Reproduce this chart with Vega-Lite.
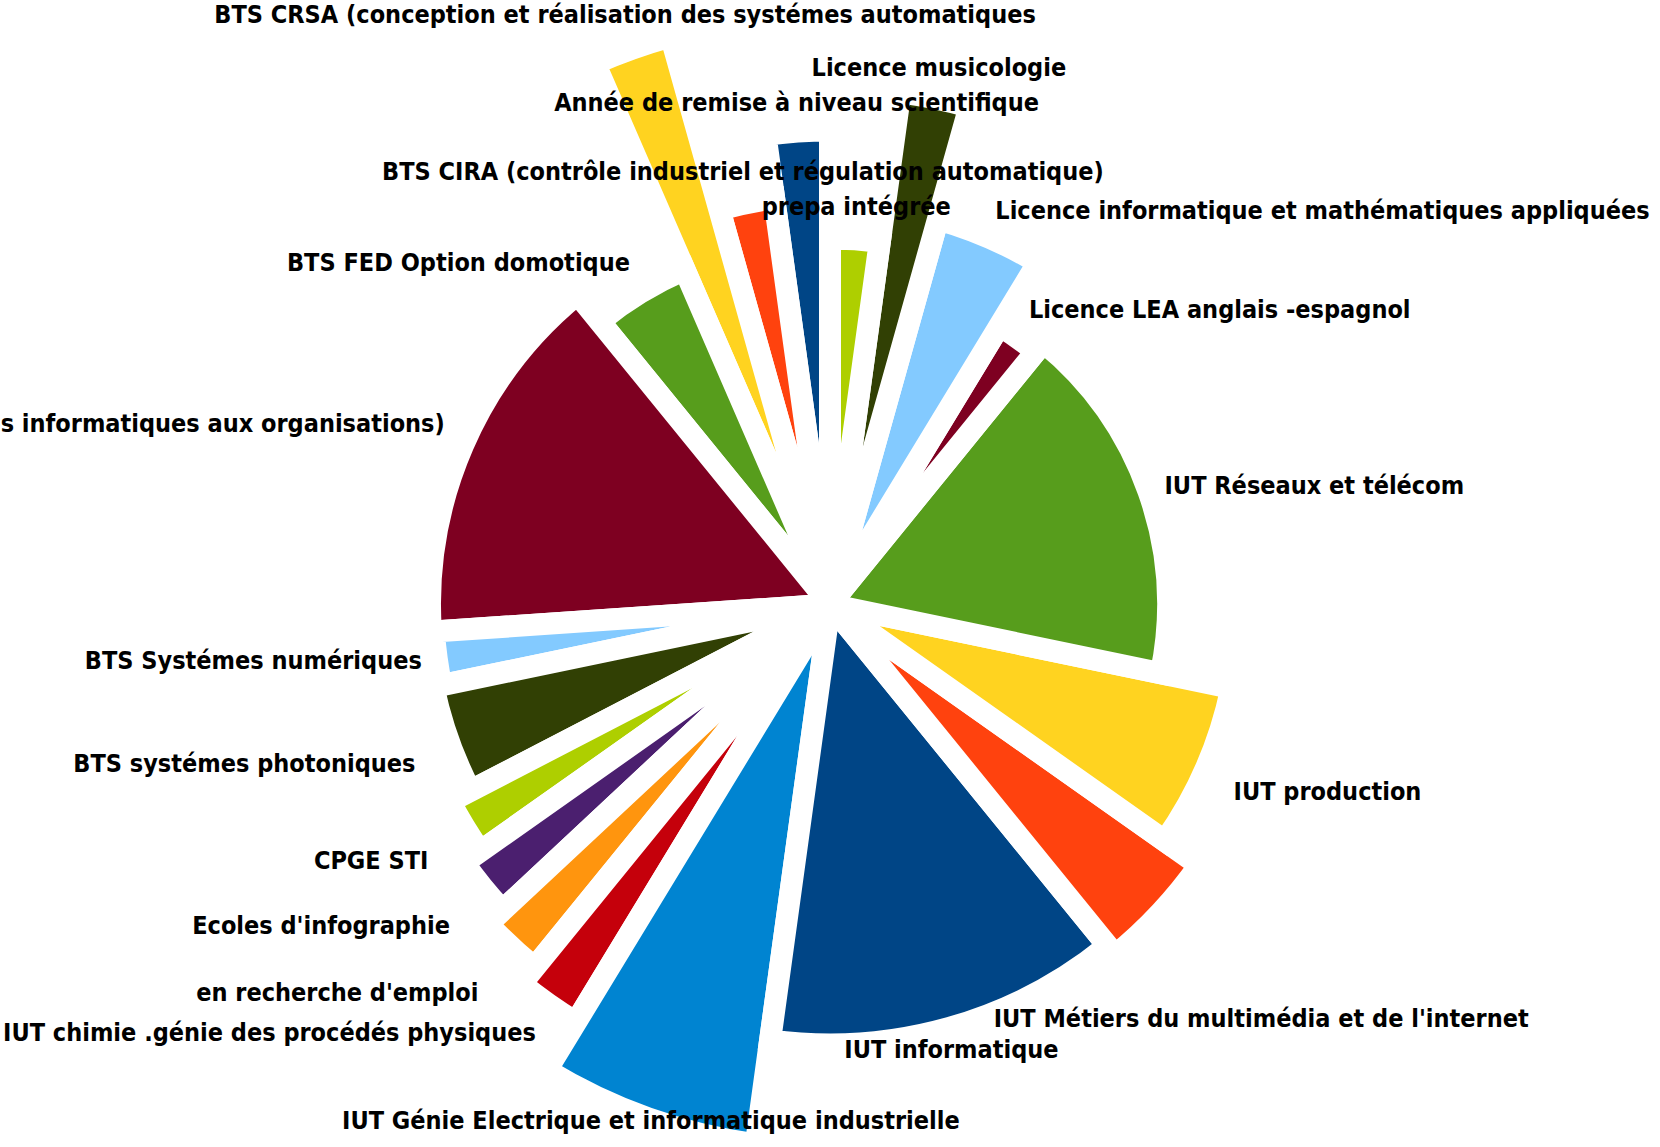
{
  "$schema": "https://vega.github.io/schema/vega-lite/v6.json",
  "width": 1660,
  "height": 1085,
  "padding": {"left": 0, "right": 0, "top": 62, "bottom": 0},
  "autosize": {"type": "none"},
  "background": "white",
  "config": {"view": {"stroke": null}, "text": {"font": "DejaVu Sans Condensed", "fontWeight": "bold", "fontSize": 25, "fill": "black"}},
  "data": {
    "values": [
      {"formation": "Année de remise à niveau scientifique", "effectif": 1, "ordre": 1},
      {"formation": "BTS CIRA (contrôle industriel et régulation automatique)", "effectif": 1, "ordre": 2},
      {"formation": "BTS CRSA (conception et réalisation des systémes automatiques", "effectif": 1, "ordre": 3},
      {"formation": "BTS FED Option domotique", "effectif": 2, "ordre": 4},
      {"formation": "BTS SIO (services informatiques aux organisations)", "effectif": 7, "ordre": 5},
      {"formation": "BTS Systémes numériques", "effectif": 1, "ordre": 6},
      {"formation": "BTS systémes photoniques", "effectif": 2, "ordre": 7},
      {"formation": "CPGE STI", "effectif": 1, "ordre": 8},
      {"formation": "Ecoles d'infographie", "effectif": 1, "ordre": 9},
      {"formation": "en recherche d'emploi", "effectif": 1, "ordre": 10},
      {"formation": "IUT chimie .génie des procédés physiques", "effectif": 1, "ordre": 11},
      {"formation": "IUT Génie Electrique et informatique industrielle", "effectif": 3, "ordre": 12},
      {"formation": "IUT informatique", "effectif": 6, "ordre": 13},
      {"formation": "IUT Métiers du multimédia et de l'internet", "effectif": 2, "ordre": 14},
      {"formation": "IUT production", "effectif": 3, "ordre": 15},
      {"formation": "IUT Réseaux et télécom", "effectif": 8, "ordre": 16},
      {"formation": "Licence  LEA anglais -espagnol", "effectif": 1, "ordre": 17},
      {"formation": "Licence informatique et mathématiques appliquées", "effectif": 2, "ordre": 18},
      {"formation": "Licence musicologie", "effectif": 1, "ordre": 19},
      {"formation": "prepa intégrée", "effectif": 1, "ordre": 20}
    ]
  },
  "encoding": {
    "theta": {"field": "effectif", "type": "quantitative", "stack": true},
    "order": {"field": "ordre", "type": "quantitative", "sort": "descending"},
    "detail": {"field": "formation", "type": "nominal"}
  },
  "layer": [
    {
      "mark": {"type": "arc", "stroke": "white", "strokeWidth": 22,
               "outerRadius": {"expr": "[474,410,590,365,400,397,405,428,448,468,489,545,440,452,410,338,326,400,517,366][datum.ordre - 1]"}},
      "encoding": {
        "color": {
          "field": "ordre", "type": "ordinal", "legend": null,
          "scale": {
            "domain": [1,2,3,4,5,6,7,8,9,10,11,12,13,14,15,16,17,18,19,20],
            "range": ["#004586","#ff420e","#ffd320","#579d1c","#7e0021","#83caff","#314004","#aecf00","#4b1f6f","#ff950e","#c5000b","#0084d1","#004586","#ff420e","#ffd320","#579d1c","#7e0021","#83caff","#314004","#aecf00"]
          }
        }
      }
    },
    {
      "mark": {"type": "text",
               "radius": {"expr": "[490,428,612,385,420,412,440,470,490,515,510,535,450,590,440,355,345,415,535,385][datum.ordre - 1]"},
               "align": {"expr": "indexof([1,2,3,12,13,14,19,20], datum.ordre) >= 0 ? 'center' : (datum.ordre <= 11 ? 'right' : 'left')"},
               "baseline": {"expr": "indexof([1,2,3,4,5,17,18,19,20], datum.ordre) >= 0 ? 'bottom' : (indexof([6,16], datum.ordre) >= 0 ? 'middle' : 'top')"}},
      "encoding": {
        "text": {"field": "formation", "type": "nominal"}
      }
    }
  ]
}
